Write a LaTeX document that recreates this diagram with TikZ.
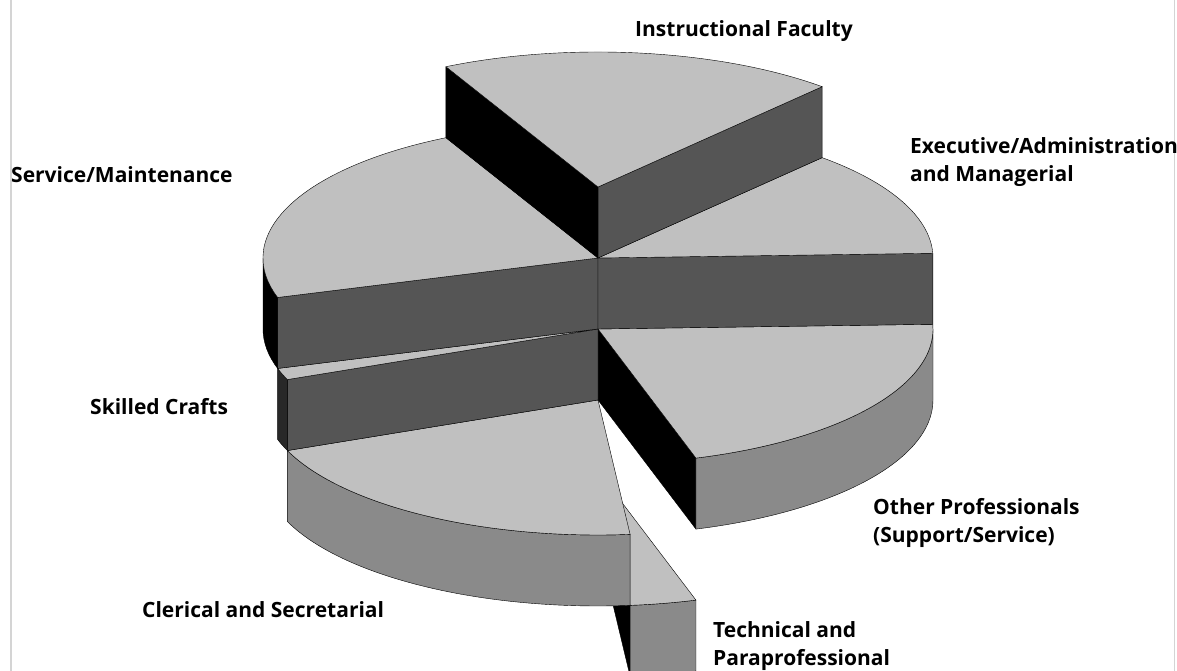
\documentclass[tikz,border=0pt]{standalone}
\usepackage{fontspec}
\setmainfont{Open Sans}
\usetikzlibrary{calc}

\definecolor{topgray}{RGB}{192,192,192}
\definecolor{sidegray}{RGB}{85,85,85}
\definecolor{rimgray}{RGB}{138,138,138}
\definecolor{rimdark}{RGB}{40,40,40}
\definecolor{framegray}{RGB}{212,212,212}

\begin{document}
\begin{tikzpicture}[x=1pt, y=1pt,
    topface/.style={fill=topgray, draw=black, line width=0.4pt, line join=round},
    sideface/.style={fill=sidegray, draw=black, line width=0.4pt, line join=round},
    blackface/.style={fill=black, draw=black, line width=0.4pt, line join=round},
    rimface/.style={fill=rimgray, draw=black, line width=0.4pt, line join=round},
    ell/.style={x radius=335, y radius=135},
    lbl/.style={font=\bfseries\fontsize{21}{28}\selectfont, inner sep=0pt, align=left, anchor=west}
]

\useasboundingbox (0,0) rectangle (1177,671);

% frame
\draw[framegray, line width=2pt] (11,0) -- (11,671);
\draw[framegray, line width=1pt] (1174.5,0) -- (1174.5,671);

% slice centres, one level per step
\coordinate (c0) at (598,484);
\coordinate (c1) at (598,413);
\coordinate (c2) at (598,342);
\coordinate (c3) at (598,271);
\coordinate (c4) at (598,200);

% TECHNICAL AND PARAPROFESSIONAL (lowest level)
\draw[blackface] (c4) -- ($(c4)+(-84.5:335 and 135)$) -- ++(0,-71) -- ($(c4)+(0,-71)$) -- cycle;
\draw[rimface] ($(c4)+(-84.5:335 and 135)$) arc[ell, start angle=-84.5, end angle=-73]
    -- ++(0,-71) arc[ell, start angle=-73, end angle=-84.5] -- cycle;
\draw[topface] (c4) -- ($(c4)+(-84.5:335 and 135)$) arc[ell, start angle=-84.5, end angle=-73] -- cycle;

% CLERICAL AND SECRETARIAL
\draw[rimface] ($(c3)+(202:335 and 135)$) arc[ell, start angle=202, end angle=275.5]
    -- ++(0,-71) arc[ell, start angle=275.5, end angle=202] -- cycle;
\draw[topface] (c3) -- ($(c3)+(202:335 and 135)$) arc[ell, start angle=202, end angle=275.5] -- cycle;

% OTHER PROFESSIONALS
\draw[blackface] (c2) -- ($(c2)+(-73:335 and 135)$) -- ++(0,-71) -- ($(c2)+(0,-71)$) -- cycle;
\draw[rimface] ($(c2)+(-73:335 and 135)$) arc[ell, start angle=-73, end angle=0]
    -- ++(0,-71) arc[ell, start angle=0, end angle=-73] -- cycle;
\draw[topface] (c2) -- ($(c2)+(-73:335 and 135)$) arc[ell, start angle=-73, end angle=2] -- cycle;

% SKILLED CRAFTS
\draw[sideface] (c2) -- ($(c2)+(202:335 and 135)$) -- ++(0,-71) -- ($(c2)+(0,-71)$) -- cycle;
\draw[rimface, fill=rimdark] ($(c2)+(197:335 and 135)$) arc[ell, start angle=197, end angle=202]
    -- ++(0,-71) arc[ell, start angle=202, end angle=197] -- cycle;
\draw[topface] (c2) -- ($(c2)+(197:335 and 135)$) arc[ell, start angle=197, end angle=202] -- cycle;

% SERVICE/MAINTENANCE
\draw[sideface] (c1) -- ($(c1)+(197:335 and 135)$) -- ++(0,-71) -- ($(c1)+(0,-71)$) -- cycle;
\draw[blackface] ($(c1)+(180:335 and 135)$) arc[ell, start angle=180, end angle=197]
    -- ++(0,-71) arc[ell, start angle=197, end angle=180] -- cycle;
\draw[topface] (c1) -- ($(c1)+(117:335 and 135)$) arc[ell, start angle=117, end angle=197] -- cycle;

% EXECUTIVE/ADMINISTRATION
\draw[sideface] (c1) -- ($(c1)+(2:335 and 135)$) -- ++(0,-71) -- ($(c1)+(0,-71)$) -- cycle;
\draw[topface] (c1) -- ($(c1)+(2:335 and 135)$) arc[ell, start angle=2, end angle=48] -- cycle;

% INSTRUCTIONAL FACULTY (highest level)
\draw[sideface] (c0) -- ($(c0)+(48:335 and 135)$) -- ++(0,-71) -- ($(c0)+(0,-71)$) -- cycle;
\draw[blackface] (c0) -- ($(c0)+(117:335 and 135)$) -- ++(0,-71) -- ($(c0)+(0,-71)$) -- cycle;
\draw[topface] (c0) -- ($(c0)+(48:335 and 135)$) arc[ell, start angle=48, end angle=117] -- cycle;

% labels
\node[lbl, anchor=center] (lblInstr) at (744,640) {Instructional Faculty};
\node[lbl] (lblExec) at (910,508.5) {Executive/Administration\\and Managerial};
\node[lbl] (lblServ) at (11,496) {Service/Maintenance};
\node[lbl] (lblSkill) at (90,264) {Skilled Crafts};
\node[lbl] (lblOther) at (873,148.5) {Other Professionals\\(Support/Service)};
\node[lbl] (lblCler) at (142,61) {Clerical and Secretarial};
\node[lbl] (lblTech) at (713,24.5) {Technical and\\Paraprofessional};

\end{tikzpicture}
\end{document}
